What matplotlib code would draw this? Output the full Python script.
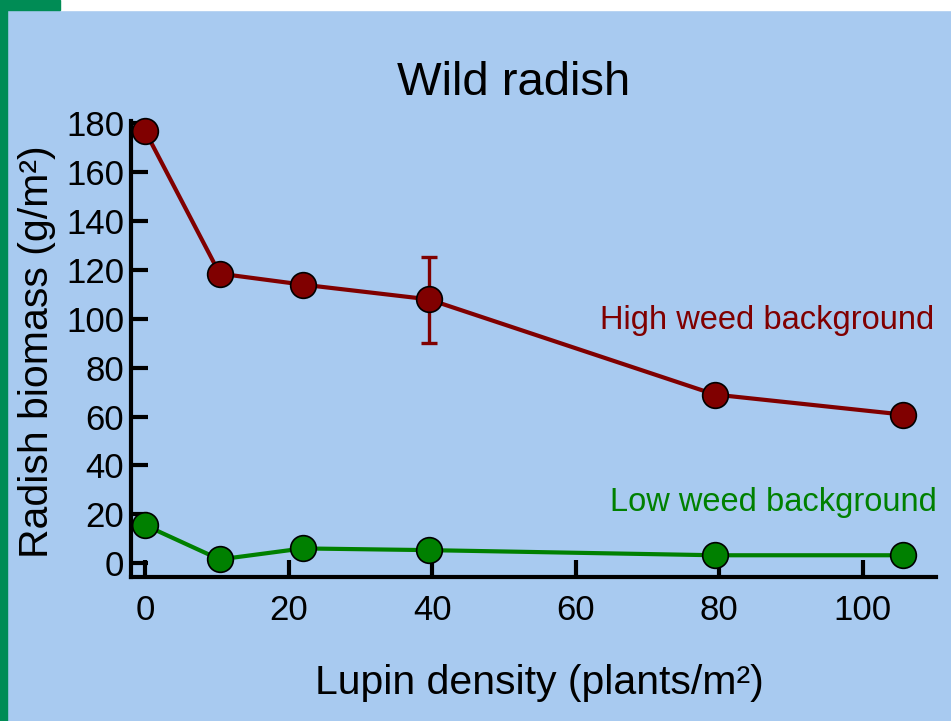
import matplotlib
matplotlib.use('Agg')
import matplotlib.pyplot as plt
from matplotlib.patches import Rectangle

plt.rcParams['font.family'] = ['Liberation Sans', 'DejaVu Sans']

# data
lupin = [0, 10.4, 22, 39.5, 79.4, 105.6]
high_weed = [177, 118.5, 114, 108, 69, 60.8]
low_weed = [15.5, 1.5, 6, 5.3, 3.2, 3.2]
err_x = [39.5]
err_y = [108]
err_lo = [18]
err_hi = [17.5]
xticks = [0, 20, 40, 60, 80, 100]
yticks = [0, 20, 40, 60, 80, 100, 120, 140, 160, 180]

bg = '#A8CAF0'
red = '#800000'
green = '#008000'

fig = plt.figure(figsize=(9.51, 7.21), dpi=100)
fig.patch.set_facecolor(bg)

# frame decoration: green strip on the left, white strip on top
fig.patches.append(Rectangle((0, 0), 7/951, 1, transform=fig.transFigure,
                             color='#008C55', zorder=0))
fig.patches.append(Rectangle((60/951, 1 - 10/721), 1, 10/721, transform=fig.transFigure,
                             color='white', zorder=0))
fig.patches.append(Rectangle((0, 1 - 10/721), 60/951, 10/721, transform=fig.transFigure,
                             color='#008C55', zorder=0))

ax = fig.add_axes([131/951, 1 - 577/721, (936 - 131)/951, (577 - 121)/721])
ax.set_facecolor(bg)

ax.plot(lupin, high_weed, color=red, lw=3, marker='o', ms=18.5,
        mfc=red, mec='black', mew=1.2, zorder=3, clip_on=False)
ax.errorbar(err_x, err_y, yerr=[err_lo, err_hi], fmt='none', ecolor=red,
            elinewidth=2.4, capsize=5.5, capthick=2.4, zorder=2)
ax.plot(lupin, low_weed, color=green, lw=3, marker='o', ms=18.5,
        mfc=green, mec='black', mew=1.2, zorder=3, clip_on=False)

ax.set_xlim(-1.95, 110.2)
ax.set_ylim(-5.7, 181)
ax.set_xticks(xticks)
ax.set_yticks(yticks)

for s in ['top', 'right']:
    ax.spines[s].set_visible(False)
for s in ['left', 'bottom']:
    ax.spines[s].set_linewidth(3)
ax.tick_params(direction='in', length=12, width=3, labelsize=25)
ax.tick_params(axis='x', pad=12)
ax.tick_params(axis='y', pad=5)

fig.text(767/951, 1 - 320/721, 'High weed background', color=red, fontsize=23.5,
         ha='center', va='center')
fig.text(773/951, 1 - 503/721, 'Low weed background', color=green, fontsize=23.5,
         ha='center', va='center')

fig.text(514/951, 1 - 83/721, 'Wild radish', fontsize=34, ha='center', va='center')
fig.text(539/951, 1 - 683/721, 'Lupin density (plants/m²)', fontsize=29.5, ha='center', va='center')
fig.text(37/951, 1 - 352/721, 'Radish biomass (g/m²)', fontsize=29.5, ha='center', va='center',
         rotation=90)

fig.savefig('out.png', dpi=100, facecolor=fig.get_facecolor())
